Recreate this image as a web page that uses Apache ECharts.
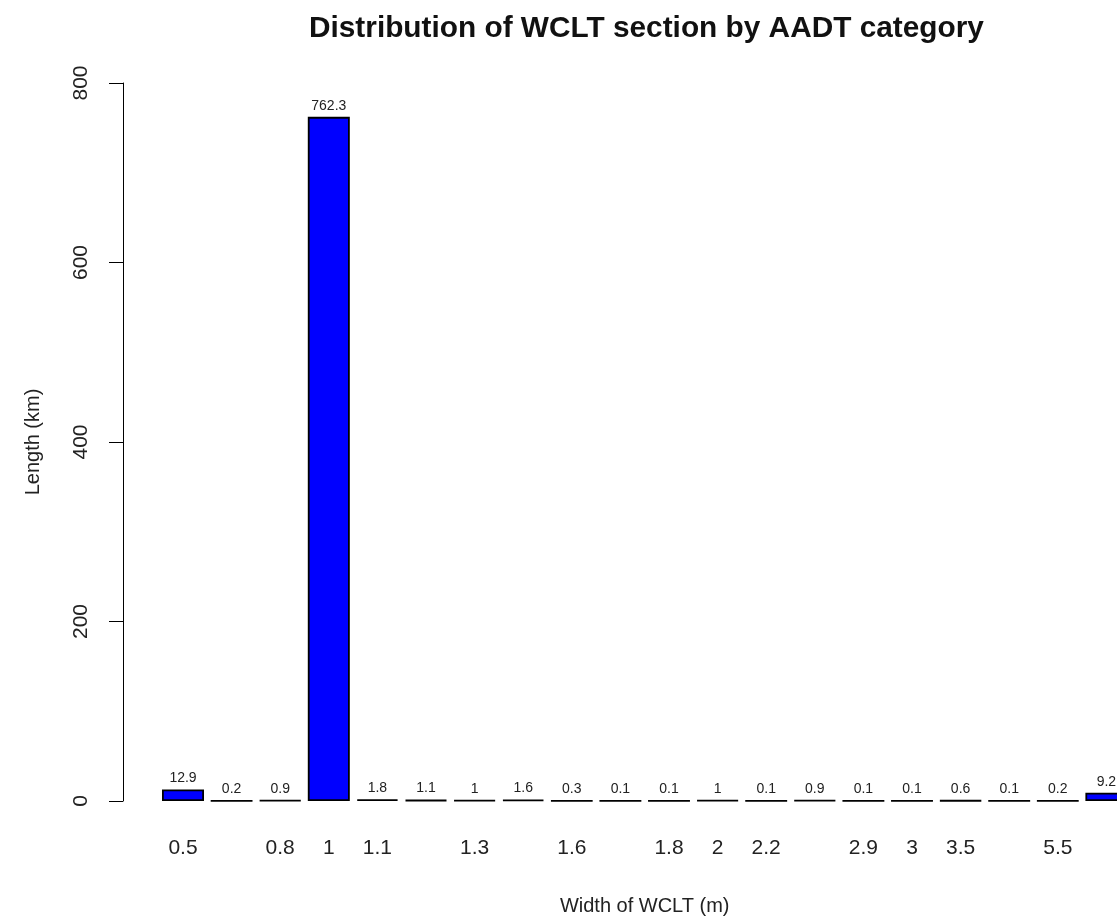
<!DOCTYPE html>
<html>
<head>
<meta charset="utf-8">
<script src="https://cdn.jsdelivr.net/npm/echarts@6/dist/echarts.min.js"></script>
<style>html,body{margin:0;padding:0;background:#fff;}#c{width:1117px;height:920px;}</style>
</head>
<body>
<div id="c"></div>
<script>
// Tick labels as visible in the reference (R hid overlapping ones)
const tickLabels = ['0.5', '', '0.8', '1', '1.1', '', '1.3', '', '1.6', '', '1.8', '2', '2.2', '', '2.9', '3', '3.5', '', '5.5', ''];
const lengths = [12.9, 0.2, 0.9, 762.3, 1.8, 1.1, 1, 1.6, 0.3, 0.1, 0.1, 1, 0.1, 0.9, 0.1, 0.1, 0.6, 0.1, 0.2, 9.2];
const yTicks = { min: 0, max: 800, interval: 200 };
const titleText = 'Distribution of WCLT section by AADT category';
const xName = 'Width of WCLT (m)';
const yName = 'Length (km)';

const chart = echarts.init(document.getElementById('c'), null, { renderer: 'canvas' });
const font = 'Liberation Sans, Arial, Helvetica, sans-serif';
chart.setOption({
  animation: false,
  backgroundColor: '#ffffff',
  title: {
    text: titleText,
    left: 304,
    top: 9,
    textStyle: { fontFamily: font, fontWeight: 'bold', fontSize: 29.8, color: '#111' }
  },
  grid: { left: 158.7, width: 972, top: 83, bottom: 119, containLabel: false, outerBoundsMode: 'none' },
  xAxis: {
    type: 'category',
    data: tickLabels,
    axisLine: { show: false },
    axisTick: { show: false },
    axisLabel: { interval: 0, margin: 37, fontFamily: font, fontSize: 21, color: '#222' },
    name: xName,
    nameLocation: 'middle',
    nameGap: 95,
    nameTextStyle: { fontFamily: font, fontSize: 20, color: '#222' }
  },
  yAxis: {
    type: 'value',
    min: yTicks.min, max: yTicks.max, interval: yTicks.interval,
    offset: 35.7,
    splitLine: { show: false },
    axisLine: { show: true, lineStyle: { color: '#000', width: 1 } },
    axisTick: { show: true, length: 14, lineStyle: { color: '#000' } },
    axisLabel: { rotate: 90, margin: 42, fontFamily: font, fontSize: 21, color: '#222', align: 'center', verticalAlign: 'middle' },
    name: yName,
    nameLocation: 'middle',
    nameGap: 80,
    nameRotate: 90,
    nameTextStyle: { fontFamily: font, fontSize: 20, color: '#222' }
  },
  series: [{
    type: 'bar',
    data: lengths,
    barWidth: 42,
    itemStyle: { color: '#0000ff', borderColor: '#000', borderWidth: 1.8 },
    label: { show: true, position: 'top', distance: 4, fontFamily: font, fontSize: 14, color: '#222' }
  }]
});
</script>
</body>
</html>
